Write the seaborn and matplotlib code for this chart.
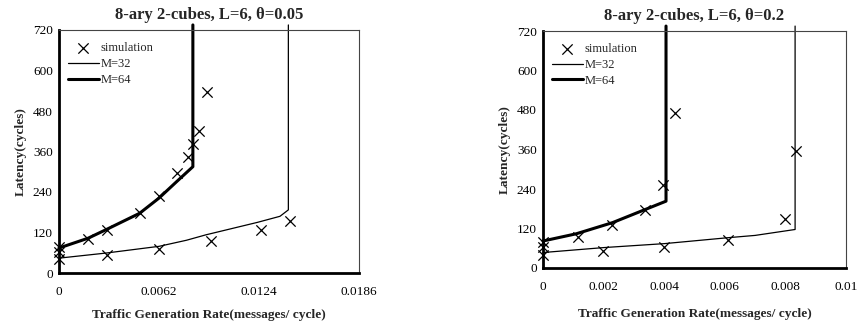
import numpy as np
import pandas as pd
import matplotlib
matplotlib.use("Agg")
import matplotlib.pyplot as plt
import seaborn as sns

# ---------------- data ----------------
# Left panel: theta = 0.05
l_m32_x = [0, 0.0029, 0.0062, 0.0079, 0.0091, 0.0123, 0.0137, 0.01422, 0.01422]
l_m32_y = [44, 59, 79, 97, 113, 150, 168, 187, 735]
l_m64_x = [0, 0.0018, 0.0029, 0.0050, 0.0062, 0.0073, 0.0083, 0.0083]
l_m64_y = [74, 103, 128, 177, 222, 271, 315, 735]
l_sim_x = [0, 0, 0, 0.0018, 0.0030, 0.0050, 0.0062, 0.0073, 0.0080, 0.0083, 0.0087, 0.0092,
           0.0030, 0.0062, 0.0094, 0.0125, 0.0143]
l_sim_y = [41, 61, 77, 102, 128, 178, 229, 296, 343, 383, 421, 537,
           54, 71, 94, 128, 153]

# Right panel: theta = 0.2
r_m32_x = [0, 0.002, 0.004, 0.0061, 0.0070, 0.00832, 0.00832]
r_m32_y = [47, 62, 74, 92, 99, 117, 735]
r_m64_x = [0, 0.0011, 0.0023, 0.0033, 0.00406, 0.00406]
r_m64_y = [82, 104, 138, 175, 203, 735]
r_sim_x = [0, 0, 0, 0.00116, 0.00229, 0.00336, 0.00397, 0.00435,
           0.00198, 0.0040, 0.0061, 0.0080, 0.00835]
r_sim_y = [40, 65, 80, 94, 130, 175, 251, 472,
           51, 64, 86, 148, 355]

titles = ["8-ary 2-cubes, L=6, \u03b8=0.05", "8-ary 2-cubes, L=6, \u03b8=0.2"]
l_xticks = [0, 0.0062, 0.0124, 0.0186]
l_xticklabels = ["0", "0.0062", "0.0124", "0.0186"]
r_xticks = [0, 0.002, 0.004, 0.006, 0.008, 0.01]
r_xticklabels = ["0", "0.002", "0.004", "0.006", "0.008", "0.01"]
yticks = [0, 120, 240, 360, 480, 600, 720]
xlabel = "Traffic Generation Rate(messages/ cycle)"
ylabel = "Latency(cycles)"

# ---------------- style ----------------
sns.set_theme(style="white")
plt.rcParams["font.family"] = ["Liberation Serif", "DejaVu Serif"]

fig = plt.figure(figsize=(8.59, 3.24), dpi=100)
ax1 = fig.add_axes([59/859, 1-273/324, 300/859, 243/324])
ax2 = fig.add_axes([543/859, 1-268/324, 303/859, 237/324])

panels = [
    (ax1, l_m32_x, l_m32_y, l_m64_x, l_m64_y, l_sim_x, l_sim_y, l_xticks, l_xticklabels, 0.0186),
    (ax2, r_m32_x, r_m32_y, r_m64_x, r_m64_y, r_sim_x, r_sim_y, r_xticks, r_xticklabels, 0.01),
]

for i, (ax, m32x, m32y, m64x, m64y, sx, sy, xt, xtl, xmax) in enumerate(panels):
    d32 = pd.DataFrame({"x": m32x, "y": m32y})
    d64 = pd.DataFrame({"x": m64x, "y": m64y})
    dsim = pd.DataFrame({"x": sx, "y": sy})
    sns.scatterplot(data=dsim, x="x", y="y", ax=ax, marker="x", s=55, color="black",
                    linewidth=0.9, label="simulation", clip_on=False, zorder=3)
    sns.lineplot(data=d32, x="x", y="y", ax=ax, sort=False, estimator=None, color="black",
                 linewidth=0.9, label="M=32", clip_on=False)
    sns.lineplot(data=d64, x="x", y="y", ax=ax, sort=False, estimator=None, color="black",
                 linewidth=2.2, label="M=64", clip_on=False)
    ax.set_xlim(0, xmax)
    ax.set_ylim(0, 720)
    ax.set_xticks(xt)
    ax.set_xticklabels(xtl)
    ax.set_yticks(yticks)
    ax.tick_params(axis="both", labelsize=9.5, length=3, width=1.2, direction="inout",
                   colors="black", pad=8)
    ax.tick_params(axis="y", pad=3)
    for s in ["left", "bottom"]:
        ax.spines[s].set_linewidth(2.0)
        ax.spines[s].set_color("black")
    for s in ["top", "right"]:
        ax.spines[s].set_linewidth(0.8)
        ax.spines[s].set_color("#444444")
    ax.set_xlabel(xlabel, fontsize=9.6, fontweight="bold", labelpad=8 if i == 0 else 11)
    ax.set_ylabel(ylabel, fontsize=9.6, fontweight="bold", labelpad=4)
    ax.set_title(titles[i], fontsize=12, fontweight="bold", pad=8)
    leg = ax.legend(loc="upper left", frameon=False, fontsize=9, handlelength=2.5,
                    handletextpad=0.1, labelspacing=0.3, borderaxespad=0.3,
                    bbox_to_anchor=(0.0, 0.985))

fig.savefig("out.png", dpi=100)
